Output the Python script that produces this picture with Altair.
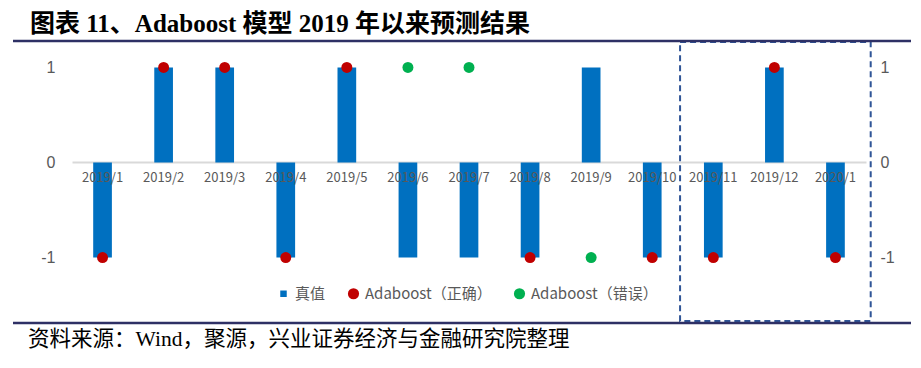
import altair as alt
import pandas as pd

MONTHS = ["2019/1", "2019/2", "2019/3", "2019/4", "2019/5", "2019/6", "2019/7",
          "2019/8", "2019/9", "2019/10", "2019/11", "2019/12", "2020/1"]
TRUE_VALUES = [-1, 1, 1, -1, 1, -1, -1, -1, 1, -1, -1, 1, -1]
PRED_VALUES = [-1, 1, 1, -1, 1, 1, 1, -1, -1, -1, -1, 1, -1]
SERIES = ["真值", "Adaboost（正确）", "Adaboost（错误）"]
COLORS = ["#0070C0", "#C00000", "#00B050"]
Y_TICKS = [-1, 0, 1]
Y_DOMAIN = [-1.668, 1.268]
BOX_MONTHS = ["2019/11", "2020/1"]
TITLE = "图表 11、Adaboost 模型 2019 年以来预测结果"
SOURCE = "资料来源：Wind，聚源，兴业证券经济与金融研究院整理"

bars_df = pd.DataFrame({"month": MONTHS, "value": TRUE_VALUES, "series": SERIES[0]})
pts_df = pd.DataFrame({
    "month": MONTHS,
    "value": PRED_VALUES,
    "series": [SERIES[1] if p == t else SERIES[2] for p, t in zip(PRED_VALUES, TRUE_VALUES)],
})
one = pd.DataFrame({"t": [SOURCE], "title": [TITLE]})

W, H = 794, 279
GRAY = "#595959"
CJK = "Noto Sans CJK SC"
SERIF = "Liberation Serif, " + CJK

x_scale = alt.Scale(domain=MONTHS, paddingInner=0, paddingOuter=0)
y_scale = alt.Scale(domain=Y_DOMAIN, nice=False, zero=False)
color_scale = alt.Scale(domain=SERIES, range=COLORS)
shape_scale = alt.Scale(domain=SERIES,
                        range=["M-0.58,-0.58H0.58V0.58H-0.58Z", "circle", "circle"])

legend = alt.Legend(title=None, orient="none", direction="horizontal",
                    legendX=204, legendY=244, labelFont=CJK, labelFontSize=15,
                    labelColor=GRAY, symbolSize=125, labelOffset=4,
                    columnPadding=20, padding=0, symbolOpacity=1, symbolStrokeWidth=0)

X = alt.X("month:N", scale=x_scale, sort=MONTHS, axis=None)


def y_axis(orient, pad, zero_grid=False):
    if zero_grid:
        extra = dict(grid=True, gridWidth=2,
                     gridColor=alt.condition("datum.value === 0",
                                             alt.value("#D9D9D9"),
                                             alt.value("transparent")))
    else:
        extra = dict(grid=False)
    return alt.Axis(orient=orient, values=Y_TICKS, title=None,
                    labelExpr="toString(datum.value)",
                    domain=False, ticks=False, labelPadding=pad,
                    labelFontSize=16, labelColor=GRAY, labelFont="Liberation Sans",
                    **extra)


bars = alt.Chart(bars_df).mark_bar(width=alt.RelativeBandSize(0.306)).encode(
    x=X,
    y=alt.Y("value:Q", scale=y_scale, axis=y_axis("left", 17, zero_grid=True)),
    y2=alt.Y2Datum(0),
    color=alt.Color("series:N", scale=color_scale, legend=legend),
)

xlabels = alt.Chart(bars_df).mark_text(fontSize=13, font=CJK, color=GRAY,
                                       baseline="middle", dy=15.5).encode(
    x=X,
    y=alt.YDatum(0, scale=y_scale, axis=None),
    text="month:N",
)

points = alt.Chart(pts_df).mark_point(filled=True, opacity=1, size=120).encode(
    x=X,
    y=alt.Y("value:Q", scale=y_scale, axis=y_axis("right", 14)),
    color=alt.Color("series:N", scale=color_scale, legend=legend),
    shape=alt.Shape("series:N", scale=shape_scale, legend=legend),
)

box = alt.Chart(one).mark_rect(fill="transparent", stroke="#2F5597", strokeWidth=2,
                               strokeDash=[6, 4], xOffset=-2.7, x2Offset=4.7).encode(
    x=alt.XDatum(BOX_MONTHS[0], bandPosition=0, scale=x_scale, axis=None),
    x2=alt.X2Datum(BOX_MONTHS[1], bandPosition=1),
    y=alt.YDatum(Y_DOMAIN[1], scale=y_scale, axis=None),
    y2=alt.Y2Datum(Y_DOMAIN[0]),
)

top_line = alt.Chart(one).mark_rule(color="#2E3065", strokeWidth=2.5).encode(
    x=alt.value(-59), x2=alt.value(849), y=alt.value(-1)
)
bottom_line = alt.Chart(one).mark_rule(color="#2E3065", strokeWidth=2.5).encode(
    x=alt.value(-59), x2=alt.value(849), y=alt.value(281)
)

title = alt.Chart(one).mark_text(align="left", baseline="middle", fontSize=25,
                                 fontWeight="bold", font=SERIF, color="black").encode(
    x=alt.value(-42), y=alt.value(-18), text="title:N"
)

source = alt.Chart(one).mark_text(align="left", baseline="middle", fontSize=21.5,
                                  font=SERIF, color="black").encode(
    x=alt.value(-44), y=alt.value(298), text="t:N"
)

chart = alt.layer(
    bars, xlabels, points, box, top_line, bottom_line, title, source
).resolve_scale(y="independent").properties(
    width=W, height=H,
    background="white",
    padding={"left": 64, "top": 34, "right": 45, "bottom": 36},
    autosize=alt.AutoSizeParams(type="none"),
).configure_view(stroke=None, strokeWidth=0).configure_axis(
    domain=False, ticks=False
)

chart.save("out.html", embed_options={"renderer": "svg", "actions": False})
